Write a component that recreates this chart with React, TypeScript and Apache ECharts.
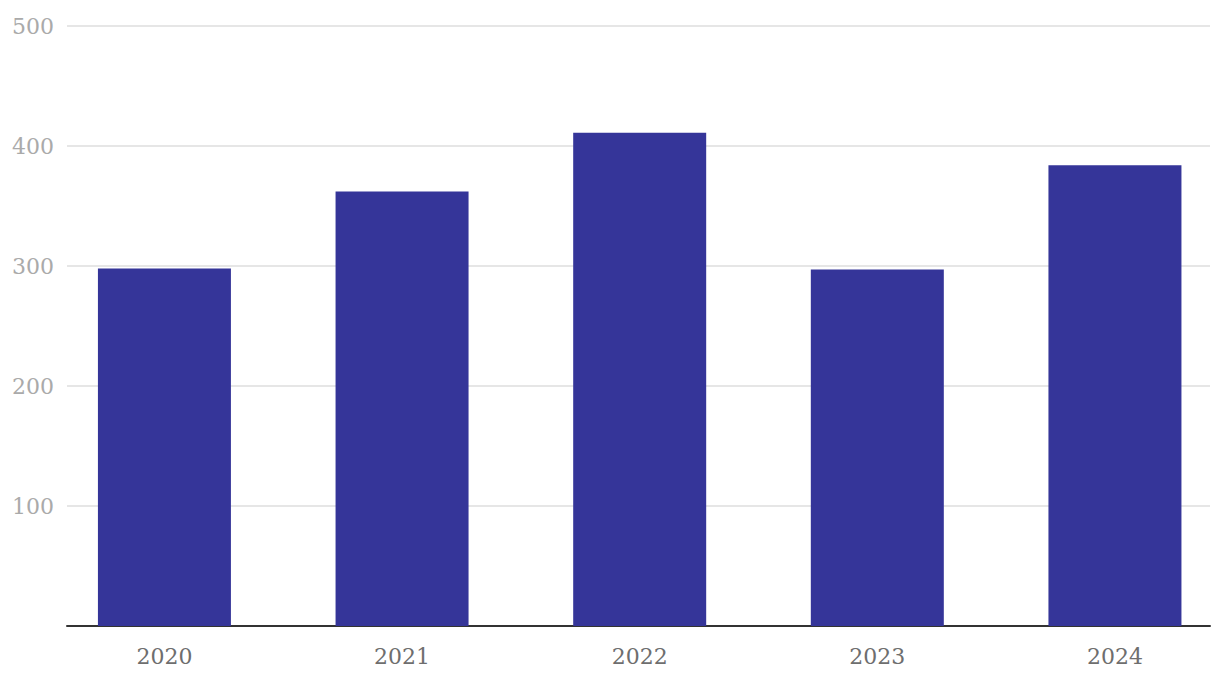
import React, { useEffect, useRef } from "react";
import * as echarts from "echarts";

const categories = ["2020", "2021", "2022", "2023", "2024"];
const values = [298, 362, 411, 297, 384];
const yTicks = [0, 100, 200, 300, 400, 500];

export default function App() {
  const ref = useRef<HTMLDivElement>(null);
  useEffect(() => {
    document.body.style.margin = "0";
    const chart = echarts.init(ref.current!, null, { renderer: "svg" });
    chart.setOption({
      animation: false,
      grid: { left: 67, right: 10, top: 26, bottom: 60, containLabel: false },
      xAxis: {
        type: "value",
        min: -0.41,
        max: categories.length - 1 + 0.4,
        splitLine: { show: false },
        axisTick: { show: false },
        axisLine: { show: true, onZero: false, lineStyle: { color: "#333", width: 2 } },
        axisLabel: {
          customValues: categories.map((_, i) => i),
          formatter: (v: number) => categories[Math.round(v)] ?? "",
          color: "#6e6e6e",
          fontFamily: "DejaVu Serif, serif",
          fontSize: 22,
          margin: 19,
        },
      },
      yAxis: {
        type: "value",
        min: yTicks[0],
        max: yTicks[yTicks.length - 1],
        interval: 100,
        axisLine: { show: false },
        axisTick: { show: false },
        splitLine: { lineStyle: { color: "#e6e6e6", width: 2 } },
        axisLabel: {
          formatter: (v: number) => (v === 0 ? "" : String(v)),
          color: "#aaaaaa",
          fontFamily: "DejaVu Serif, serif",
          fontSize: 22,
          margin: 13,
        },
      },
      series: [
        {
          type: "bar",
          data: values.map((v, i) => [i, v]),
          barWidth: 133,
          itemStyle: { color: "#353599" },
        },
      ],
    });
    return () => chart.dispose();
  }, []);
  return <div ref={ref} style={{ width: 1220, height: 686 }} />;
}
